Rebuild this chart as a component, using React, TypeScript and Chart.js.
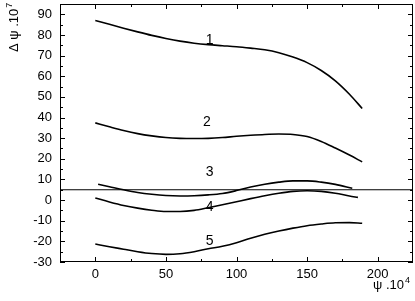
import React, { useEffect, useRef } from "react";
import { Chart, registerables } from "chart.js";

Chart.register(...registerables);

// ---- data ----
const curve1X = [0, 10, 20, 30, 40, 50, 60, 70, 80, 90, 100, 110, 120, 130, 140, 150, 160, 170, 180, 189];
const curve1Y = [87, 85.2, 83.3, 81.5, 79.8, 78.3, 77, 76, 75.3, 74.8, 74.3, 73.6, 72.8, 71.4, 69.3, 66.6, 62.8, 57.8, 51.3, 44.4];

const curve2X = [0, 10, 20, 30, 40, 50, 60, 70, 80, 90, 100, 110, 120, 130, 140, 150, 160, 170, 180, 189];
const curve2Y = [37.4, 35.5, 33.7, 32.2, 31.1, 30.3, 29.9, 29.8, 29.9, 30.3, 30.9, 31.4, 31.8, 32, 31.8, 30.8, 28.4, 25.2, 21.8, 18.5];

const curve3X = [2, 10, 20, 30, 40, 50, 60, 70, 80, 90, 100, 110, 120, 130, 140, 150, 160, 170, 182];
const curve3Y = [7.7, 6.5, 5, 3.7, 2.8, 2.2, 2, 2.1, 2.5, 3.2, 4.6, 6.3, 7.7, 8.7, 9.3, 9.3, 8.7, 7.6, 5.7];

const curve4X = [0, 10, 20, 30, 40, 50, 60, 70, 80, 90, 100, 110, 120, 130, 140, 150, 160, 170, 180, 186];
const curve4Y = [1, -0.9, -2.6, -3.9, -4.9, -5.5, -5.5, -5, -3.7, -2.3, -0.8, 0.7, 2.1, 3.3, 4.2, 4.5, 4.2, 3.3, 2.0, 1.3];

const curve5X = [0, 10, 20, 30, 40, 50, 60, 70, 80, 90, 100, 110, 120, 130, 140, 150, 160, 170, 180, 189];
const curve5Y = [-21.3, -22.6, -23.8, -25, -25.9, -26.3, -26, -25, -23.6, -22.4, -20.7, -18.5, -16.6, -15, -13.6, -12.4, -11.6, -11.0, -10.9, -11.2];

const refLineY = 5;

const curveLabels = ["1", "2", "3", "4", "5"];
const curveLabelX = [81, 79, 81, 81, 81];
const curveLabelY = [77.4, 37.7, 13.3, -3.6, -20.1];

const xMin = -25;
const xMax = 225;
const yMin = -30;
const yMax = 95;
const xMajorTicks = [0, 50, 100, 150, 200];
const xMinorTicks = [25, 75, 125, 175];
const yMajorTicks = [-30, -20, -10, 0, 10, 20, 30, 40, 50, 60, 70, 80, 90];
const yMinorTicks = [-25, -15, -5, 5, 15, 25, 35, 45, 55, 65, 75, 85];

const yTitleBase = "Δ ψ .10";
const yTitleSup = "7";
const xTitleBase = "ψ .10";
const xTitleSup = "4";

const FONT = "'Liberation Sans', Arial, Helvetica, sans-serif";

function pts(xs: number[], ys: number[]) {
  return xs.map((x, i) => ({ x, y: ys[i] }));
}

const decorPlugin = {
  id: "decor",
  afterDraw(chart: any) {
    const { ctx, chartArea, scales } = chart;
    const xs = scales.x;
    const ys = scales.y;
    const { left, right, top, bottom } = chartArea;
    ctx.save();
    ctx.strokeStyle = "#000";
    ctx.lineWidth = 1;
    // frame
    ctx.strokeRect(Math.round(left) + 0.5, Math.round(top) + 0.5, Math.round(right - left) - 1, Math.round(bottom - top) - 1);
    // ticks
    const tick = (vals: number[], len: number) => {
      ctx.beginPath();
      vals.forEach((v) => {
        const px = Math.round(xs.getPixelForValue(v)) + 0.5;
        ctx.moveTo(px, bottom);
        ctx.lineTo(px, bottom - len);
        ctx.moveTo(px, top);
        ctx.lineTo(px, top + len);
      });
      ctx.stroke();
    };
    const ytick = (vals: number[], len: number) => {
      ctx.beginPath();
      vals.forEach((v) => {
        const py = Math.round(ys.getPixelForValue(v)) + 0.5;
        ctx.moveTo(left, py);
        ctx.lineTo(left + len, py);
        ctx.moveTo(right, py);
        ctx.lineTo(right - len, py);
      });
      ctx.stroke();
    };
    tick(xMajorTicks, 5);
    tick(xMinorTicks, 3);
    ytick(yMajorTicks, 5);
    ytick(yMinorTicks, 3);

    // curve labels
    ctx.fillStyle = "#000";
    ctx.font = `14px ${FONT}`;
    ctx.textAlign = "center";
    ctx.textBaseline = "middle";
    curveLabels.forEach((t, i) => {
      ctx.fillText(t, xs.getPixelForValue(curveLabelX[i]), ys.getPixelForValue(curveLabelY[i]));
    });

    // y title (rotated)
    ctx.save();
    ctx.translate(18, 52);
    ctx.rotate(-Math.PI / 2);
    ctx.textAlign = "left";
    ctx.textBaseline = "alphabetic";
    ctx.font = `13px ${FONT}`;
    ctx.fillText(yTitleBase, 0, 0);
    const w1 = ctx.measureText(yTitleBase).width;
    ctx.font = `9px ${FONT}`;
    ctx.fillText(yTitleSup, w1 + 1, -6);
    ctx.restore();

    // x title
    ctx.textAlign = "left";
    ctx.textBaseline = "alphabetic";
    ctx.font = `13px ${FONT}`;
    const w2 = ctx.measureText(xTitleBase).width;
    ctx.font = `9px ${FONT}`;
    const w3 = ctx.measureText(xTitleSup).width;
    const xEnd = 410;
    const x0 = xEnd - w2 - w3 - 1;
    ctx.font = `13px ${FONT}`;
    ctx.fillText(xTitleBase, x0, 289);
    ctx.font = `9px ${FONT}`;
    ctx.fillText(xTitleSup, x0 + w2 + 1, 283);
    ctx.restore();
  },
};

export default function App() {
  const ref = useRef<HTMLCanvasElement | null>(null);
  useEffect(() => {
    if (!ref.current) return;
    const lineDs = (data: { x: number; y: number }[], width: number) => ({
      data,
      borderColor: "#000",
      borderWidth: width,
      pointRadius: 0,
      cubicInterpolationMode: "monotone" as const,
      fill: false,
    });
    const chart = new Chart(ref.current, {
      type: "line",
      data: {
        datasets: [
          lineDs(pts(curve1X, curve1Y), 1.6),
          lineDs(pts(curve2X, curve2Y), 1.6),
          lineDs(pts(curve3X, curve3Y), 1.6),
          lineDs(pts(curve4X, curve4Y), 1.6),
          lineDs(pts(curve5X, curve5Y), 1.6),
          { ...lineDs([{ x: xMin, y: refLineY }, { x: xMax, y: refLineY }], 1.2), cubicInterpolationMode: "default" as const, tension: 0 },
        ],
      },
      options: {
        responsive: false,
        animation: false,
        maintainAspectRatio: false,
        layout: { padding: { top: 4, right: 2, left: 0, bottom: 0 } },
        plugins: { legend: { display: false }, tooltip: { enabled: false } },
        scales: {
          x: {
            type: "linear",
            min: xMin,
            max: xMax,
            grid: { display: false, drawTicks: false },
            border: { display: false },
            afterBuildTicks: (s: any) => {
              s.ticks = xMajorTicks.map((v) => ({ value: v }));
            },
            afterFit: (s: any) => {
              s.height = 39;
              s.paddingLeft = 0;
              s.paddingRight = 0;
            },
            ticks: {
              padding: 5,
              color: "#000",
              font: { family: FONT, size: 13 },
              maxRotation: 0,
              autoSkip: false,
            },
          },
          y: {
            type: "linear",
            min: yMin,
            max: yMax,
            grid: { display: false, drawTicks: false },
            border: { display: false },
            afterBuildTicks: (s: any) => {
              s.ticks = yMajorTicks.map((v) => ({ value: v }));
            },
            afterFit: (s: any) => {
              s.width = 60;
              s.paddingTop = 0;
              s.paddingBottom = 0;
            },
            ticks: {
              padding: 8,
              color: "#000",
              font: { family: FONT, size: 13 },
              autoSkip: false,
            },
          },
        },
      },
      plugins: [decorPlugin],
    });
    return () => chart.destroy();
  }, []);
  return (
    <canvas
      ref={ref}
      width={415}
      height={301}
      style={{ position: "absolute", left: 0, top: 0, width: 415, height: 301, display: "block" }}
    />
  );
}
